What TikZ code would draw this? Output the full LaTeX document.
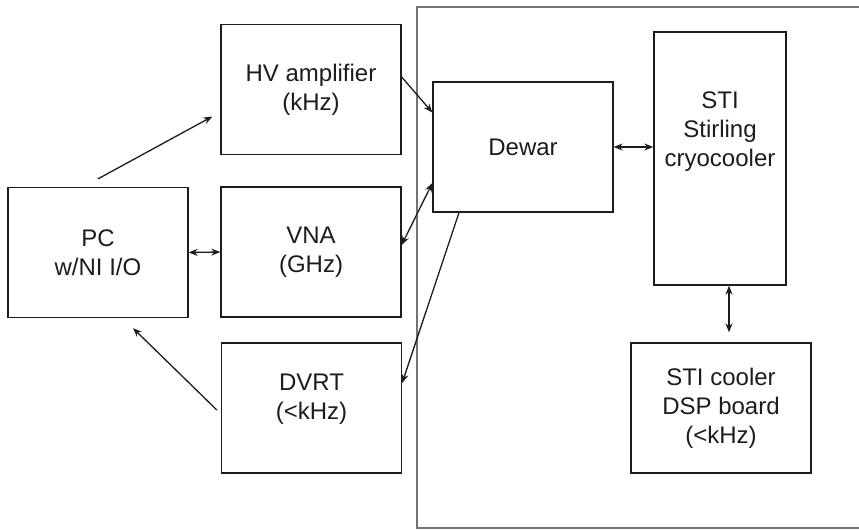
\documentclass[tikz,border=0pt]{standalone}
\usepackage{fontspec}
\setmainfont{Liberation Sans}
\usetikzlibrary{arrows.meta}
\definecolor{figK}{RGB}{28,28,28}

\begin{document}
\begin{tikzpicture}[x=1pt,y=-1pt,>={Stealth[length=9pt,width=7pt]},
  blk/.style={draw=figK,line width=1.3pt,minimum width=180pt,minimum height=130pt,inner sep=0pt},
  txt/.style={align=center,font=\fontsize{24}{29}\selectfont,text=figK},
  wire/.style={figK,line width=1.3pt}]
\useasboundingbox (0,0) rectangle (859,530);
% cold side enclosure
\draw[black!55,line width=1.2pt] (859,7)--(417,7)--(417,528)--(859,528);
% instruments
\node[blk,txt] (pc) at (98,252.5) {PC\\w/NI I/O};
\node[blk,txt] (hv) at (311,89.5) {HV amplifier\\(kHz)};
\node[blk,txt] (vna) at (311,252) {VNA\\(GHz)};
\node[blk] (dvrt) at (311.5,408) {};
\node[txt] (dvrttxt) at ([yshift=9pt]dvrt.center) {DVRT\\(<kHz)};
% cryostat side
\node[blk,txt] (dewar) at (523,147) {Dewar};
\node[blk,minimum width=132pt,minimum height=253pt] (stir) at (720,158.5) {};
\node[txt] (stirtxt) at ([yshift=27pt]stir.center) {STI\\Stirling\\cryocooler};
\node[blk,txt] (dsp) at (721,408) {STI cooler\\DSP board\\(<kHz)};
% links
\coordinate (pcup) at ([yshift=8pt]pc.north);
\coordinate (hvin) at ([xshift=-8pt,yshift=-27pt]hv.west);
\coordinate (pcin) at ([xshift=35pt,yshift=-10pt]pc.south);
\coordinate (dvrtout) at ([xshift=-4pt,yshift=-2pt]dvrt.west);
\draw[wire,->] (pcup)--(hvin);
\draw[wire,<->] (pc.east)--(vna.west);
\draw[wire,->] (dvrtout)--(pcin);
\draw[wire,->] ([yshift=12.5pt]hv.east)--([yshift=34.5pt]dewar.west);
\draw[wire,<->] ([yshift=7pt]vna.east)--([yshift=-36pt]dewar.west);
\draw[wire,->] ([xshift=-64pt]dewar.south)--([yshift=25pt]dvrt.east);
\draw[wire,<->] (dewar.east)--(stir.west |- dewar.east);
\draw[wire,<->] ([xshift=9pt]stir.south)--([xshift=8pt,yshift=10pt]dsp.north);
\end{tikzpicture}
\end{document}
